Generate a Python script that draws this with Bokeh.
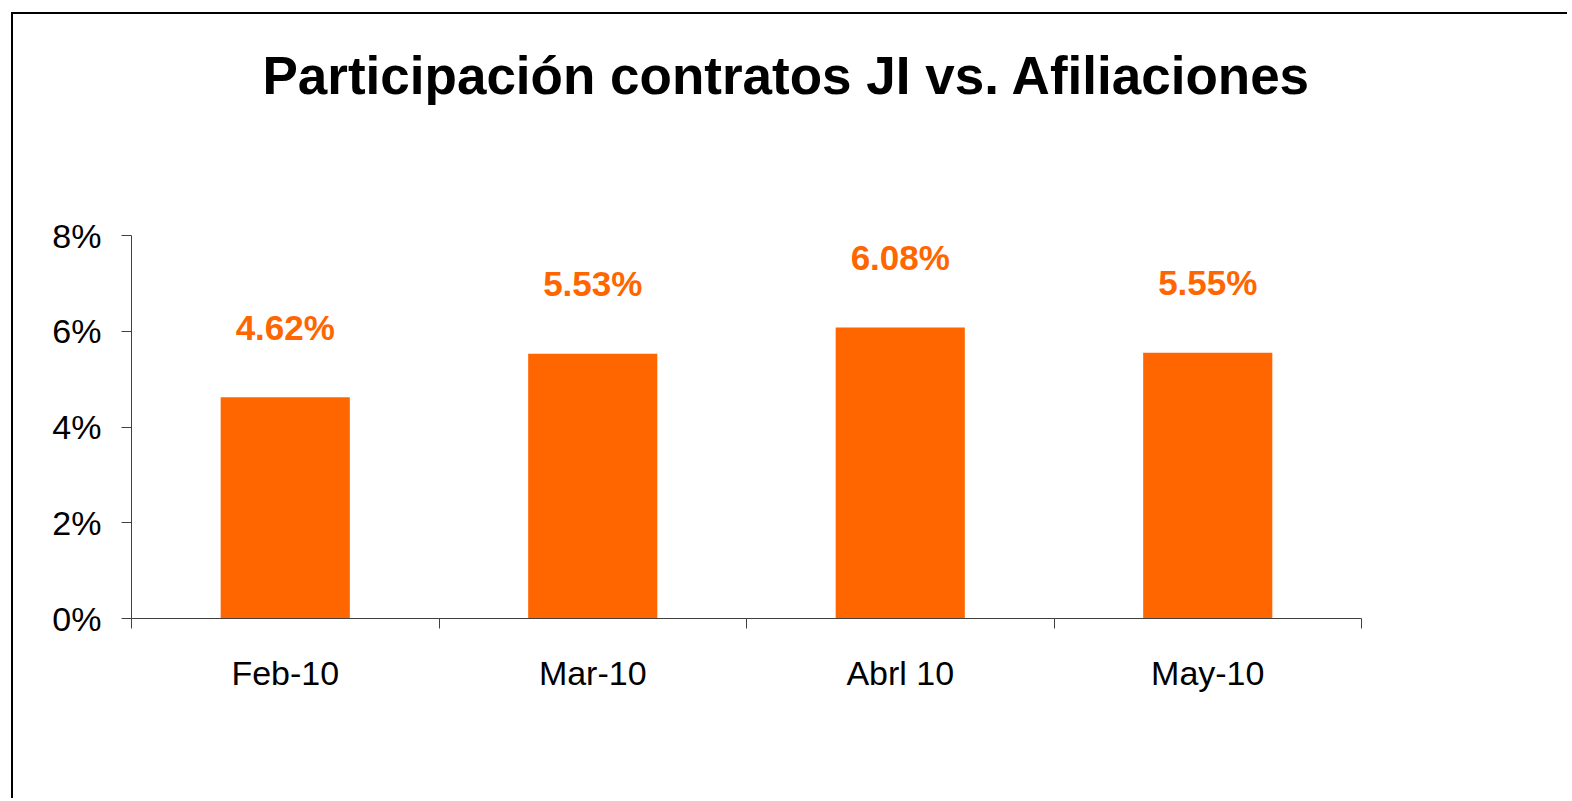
from bokeh.plotting import figure
from bokeh.models import (Range1d, FixedTicker, PrintfTickFormatter, ColumnDataSource,
                          LabelSet, Title)
from bokeh.core.properties import value
from bokeh.embed import file_html
from bokeh.resources import INLINE

# ---- data ----
categories = ["Feb-10", "Mar-10", "Abrl 10", "May-10"]
values = [4.62, 5.53, 6.08, 5.55]
value_labels = ["4.62%", "5.53%", "6.08%", "5.55%"]
y_ticks = [0, 2, 4, 6, 8]
title_text = "Participación contratos JI vs. Afiliaciones"

ORANGE = "#FF6600"
FONT = "Liberation Sans"

centers = [i + 0.5 for i in range(len(categories))]
bounds = list(range(len(categories) + 1))

source = ColumnDataSource(dict(x=centers, top=values, label=value_labels, cat=categories))

p = figure(width=1556, height=786,
           x_range=Range1d(0, len(categories)), y_range=Range1d(0, 8),
           output_backend="svg", toolbar_location=None, title=None,
           min_border_left=118, min_border_right=208,
           min_border_top=221, min_border_bottom=182)
p.styles = {"border-top": "2px solid black", "border-left": "2px solid black",
            "margin-left": "11px", "margin-top": "12px"}
p.outline_line_color = None
p.background_fill_color = "white"
p.border_fill_color = "white"
p.xgrid.grid_line_color = None
p.ygrid.grid_line_color = None

# spacer (nearest the frame) then the real title above it
spacer = Title(text=" ", text_font_size="10px", standoff=113, text_color="white")
p.add_layout(spacer, "above")
main_title = Title(text=title_text, align="left", offset=131,
                   text_font=FONT, text_font_size="53px", text_font_style="bold",
                   text_color="black", standoff=10)
p.add_layout(main_title, "above")

p.vbar(x="x", top="top", bottom=0, width=0.42, source=source,
       fill_color=ORANGE, line_color=None)

labels = LabelSet(x="x", y="top", text="label", source=source,
                  y_offset=70, text_align="center", text_baseline="middle",
                  text_font=value(FONT), text_font_size=value("35px"),
                  text_font_style="bold", text_color=ORANGE)
p.add_layout(labels)

AX = "#404040"
# x axis
xa = p.xaxis[0]
xa.ticker = FixedTicker(ticks=centers, minor_ticks=bounds)
xa.major_label_overrides = {c: cat for c, cat in zip(centers, categories)}
xa.major_tick_line_color = None
xa.minor_tick_line_color = AX
xa.minor_tick_out = 10
xa.minor_tick_in = 0
xa.axis_line_color = AX
xa.major_label_text_font = FONT
xa.major_label_text_font_size = "34px"
xa.major_label_text_color = "black"
xa.major_label_standoff = 25

# y axis
ya = p.yaxis[0]
ya.ticker = FixedTicker(ticks=y_ticks)
ya.formatter = PrintfTickFormatter(format="%d%%")
ya.major_tick_out = 10
ya.major_tick_in = 0
ya.minor_tick_line_color = None
ya.major_tick_line_color = AX
ya.axis_line_color = AX
ya.major_label_text_font = FONT
ya.major_label_text_font_size = "34px"
ya.major_label_text_color = "black"
ya.major_label_standoff = 20

open("out.html", "w").write(file_html(p, INLINE))
